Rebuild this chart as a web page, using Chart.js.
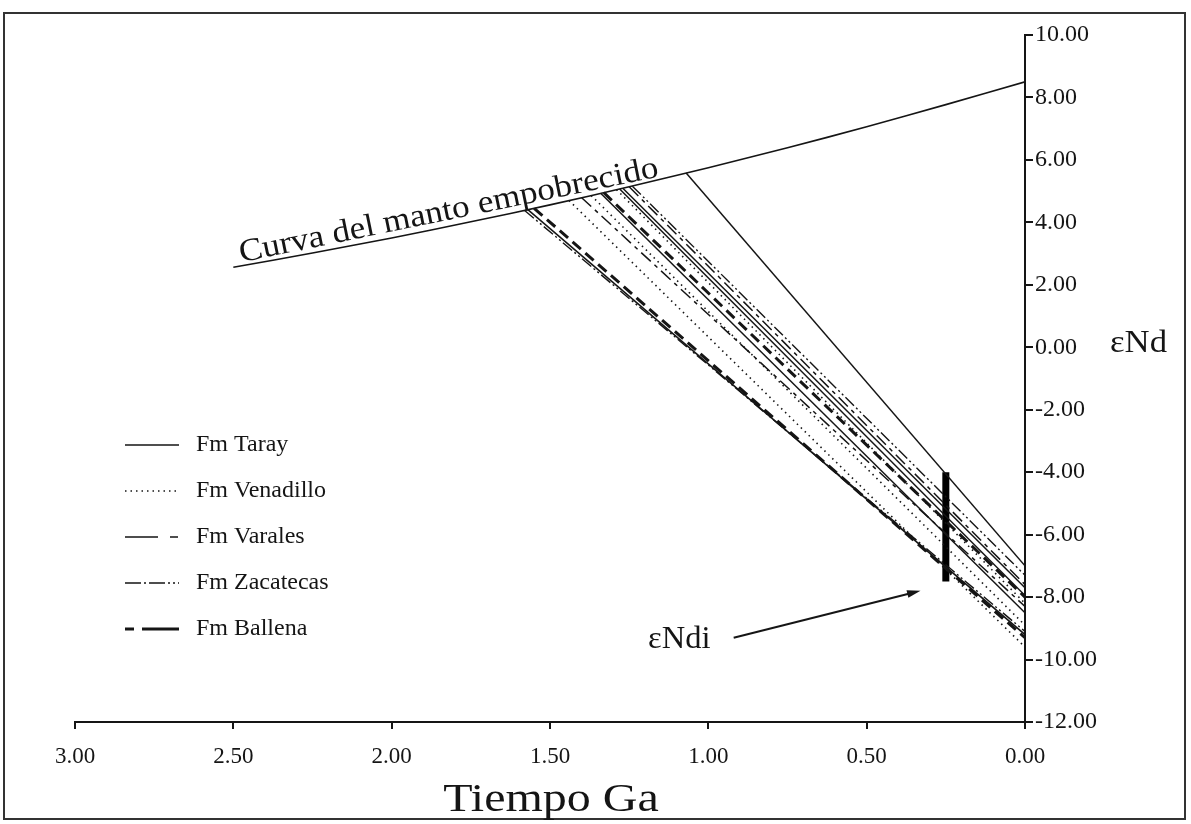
<!DOCTYPE html>
<html>
<head>
<meta charset="utf-8">
<script src="https://cdn.jsdelivr.net/npm/chart.js@4.4.0/dist/chart.umd.min.js"></script>
<style>
  html, body { margin: 0; padding: 0; background: #fff; }
  #frame { position: absolute; left: 3px; top: 12px; width: 1183px; height: 808px; border: 2px solid #333; box-sizing: border-box; }
  canvas { position: absolute; left: 0; top: 0; }
</style>
</head>
<body>
<div id="frame"></div>
<canvas id="chart" width="1191" height="824"></canvas>
<script>
// depleted mantle curve (age Ga, eNd)
const mantleAge = [2.5, 2.25, 2.0, 1.75, 1.5, 1.25, 1.0, 0.75, 0.5, 0.25, 0];
const mantleEps = [2.56, 3.02, 3.5, 4.02, 4.56, 5.14, 5.75, 6.39, 7.06, 7.77, 8.5];

// each sample: model age (TDM), eNd on the mantle curve, present eNd
const formations = ['Fm Taray', 'Fm Venadillo', 'Fm Varales', 'Fm Zacatecas', 'Fm Ballena'];

const tarayTdm = [1.07, 1.57, 1.34, 1.28, 1.27];
const tarayStart = [5.58, 4.41, 4.93, 5.07, 5.09];
const tarayNow = [-7.0, -9.2, -8.5, -7.95, -7.7];

const venadilloTdm = [1.44, 1.37, 1.29];
const venadilloStart = [4.70, 4.86, 5.05];
const venadilloNow = [-9.6, -8.9, -8.2];

const varalesTdm = [1.40, 1.25];
const varalesStart = [4.79, 5.14];
const varalesNow = [-8.3, -7.6];

const zacatecasTdm = [1.58, 1.24];
const zacatecasStart = [4.38, 5.16];
const zacatecasNow = [-9.1, -7.3];

const ballenaTdm = [1.55, 1.33];
const ballenaStart = [4.45, 4.95];
const ballenaNow = [-9.3, -8.0];

// eNdi bar and arrow
const endiAge = 0.25;
const endiRange = [-4.0, -7.5];
const arrowTail = [0.92, -9.3];
const arrowHead = [0.33, -7.8];

const xTicks = [3.0, 2.5, 2.0, 1.5, 1.0, 0.5, 0.0];

const INK = '#151515';
const SERIF = '"Liberation Serif", "DejaVu Serif", serif';

const styles = [
  { borderWidth: 1.5, borderDash: [] },
  { borderWidth: 1.6, borderDash: [1.5, 4] },
  { borderWidth: 1.5, borderDash: [13, 5, 4, 5] },
  { borderWidth: 1.4, borderDash: [12, 3, 2, 3, 2, 3] },
  { borderWidth: 3, borderDash: [11, 6] }
];

const groups = [
  [tarayTdm, tarayStart, tarayNow],
  [venadilloTdm, venadilloStart, venadilloNow],
  [varalesTdm, varalesStart, varalesNow],
  [zacatecasTdm, zacatecasStart, zacatecasNow],
  [ballenaTdm, ballenaStart, ballenaNow]
];

const datasets = [];
datasets.push({
  label: 'Curva del manto empobrecido',
  data: mantleAge.map((a, i) => ({ x: a, y: mantleEps[i] })),
  borderColor: INK, borderWidth: 1.6, showLine: true, pointRadius: 0, tension: 0.3
});
groups.forEach((g, gi) => {
  g[0].forEach((t, i) => {
    datasets.push({
      label: formations[gi],
      data: [{ x: t, y: g[1][i] }, { x: 0, y: g[2][i] }],
      borderColor: INK,
      borderWidth: styles[gi].borderWidth,
      borderDash: styles[gi].borderDash,
      showLine: true, pointRadius: 0
    });
  });
});
datasets.push({
  label: 'eNdi',
  data: [{ x: endiAge, y: endiRange[0] }, { x: endiAge, y: endiRange[1] }],
  borderColor: '#000', borderWidth: 7, borderCapStyle: 'butt', showLine: true, pointRadius: 0
});

// draw text stretched horizontally a little, like the scanned original
function wideText(ctx, txt, x, y, font, sx, align) {
  ctx.save();
  ctx.font = font;
  const w = ctx.measureText(txt).width * sx;
  let left = x;
  if (align === 'center') left = x - w / 2;
  ctx.translate(left, y);
  ctx.scale(sx, 1);
  ctx.textAlign = 'left';
  ctx.fillText(txt, 0, 0);
  ctx.restore();
}

const annotations = {
  id: 'annotations',
  afterDatasetsDraw(chart) {
    const ctx = chart.ctx;
    const xs = chart.scales.x, ys = chart.scales.y;
    ctx.save();
    ctx.fillStyle = INK;
    ctx.strokeStyle = INK;

    // curve label
    ctx.save();
    ctx.translate(xs.getPixelForValue(2.475), ys.getPixelForValue(2.72));
    ctx.rotate(-11.6 * Math.PI / 180);
    ctx.scale(1.1, 1);
    ctx.font = '32px ' + SERIF;
    ctx.textBaseline = 'alphabetic';
    ctx.textAlign = 'left';
    ctx.fillText('Curva del manto empobrecido', 0, 0);
    ctx.restore();

    // eNdi label + arrow
    ctx.textBaseline = 'middle';
    wideText(ctx, '\u03B5Ndi', 648, 640, '31px ' + SERIF, 1.05, 'left');
    const x1 = xs.getPixelForValue(arrowTail[0]), y1 = ys.getPixelForValue(arrowTail[1]);
    const x2 = xs.getPixelForValue(arrowHead[0]), y2 = ys.getPixelForValue(arrowHead[1]);
    const ang = Math.atan2(y2 - y1, x2 - x1);
    ctx.lineWidth = 2;
    ctx.beginPath();
    ctx.moveTo(x1, y1);
    ctx.lineTo(x2 - 8 * Math.cos(ang), y2 - 8 * Math.sin(ang));
    ctx.stroke();
    ctx.beginPath();
    ctx.moveTo(x2, y2);
    ctx.lineTo(x2 - 14 * Math.cos(ang - 0.28), y2 - 14 * Math.sin(ang - 0.28));
    ctx.lineTo(x2 - 14 * Math.cos(ang + 0.28), y2 - 14 * Math.sin(ang + 0.28));
    ctx.closePath();
    ctx.fill();

    // y axis name
    wideText(ctx, '\u03B5Nd', 1110, 344, '31px ' + SERIF, 1.12, 'left');

    // x axis name
    wideText(ctx, 'Tiempo Ga', 551, 800, '40px ' + SERIF, 1.2, 'center');

    // legend
    const rows = [445, 491, 537, 583, 629];
    const legendDash = [[], [1.5, 4], [33, 12, 8, 100], [16, 3, 2, 3, 16, 3, 2, 3, 2, 3], [9, 8, 40, 100]];
    formations.forEach((name, i) => {
      ctx.save();
      ctx.lineWidth = styles[i].borderWidth;
      ctx.setLineDash(legendDash[i]);
      ctx.beginPath();
      ctx.moveTo(125, rows[i]);
      ctx.lineTo(179, rows[i]);
      ctx.stroke();
      ctx.restore();
      ctx.font = '24px ' + SERIF;
      ctx.textAlign = 'left';
      ctx.fillText(name, 196, rows[i]);
    });
    ctx.restore();
  }
};

new Chart(document.getElementById('chart'), {
  type: 'scatter',
  data: { datasets },
  options: {
    responsive: false,
    animation: false,
    layout: { padding: { left: 75, top: 35, right: 0, bottom: 0 } },
    plugins: { legend: { display: false }, tooltip: { enabled: false } },
    scales: {
      x: {
        type: 'linear', reverse: true, min: 0, max: 3,
        afterBuildTicks(scale) { scale.ticks = xTicks.map(v => ({ value: v })); },
        afterFit(scale) { scale.height = 102; },
        border: { display: true, color: INK, width: 2 },
        grid: { display: true, drawOnChartArea: false, drawTicks: true, tickLength: 7, color: INK, lineWidth: 2 },
        ticks: { color: INK, font: { family: SERIF, size: 23 }, padding: 14, maxRotation: 0, callback: v => v.toFixed(2) }
      },
      y: {
        type: 'linear', position: 'right', min: -12, max: 10,
        afterFit(scale) { scale.width = 166; },
        border: { display: true, color: INK, width: 2 },
        grid: { display: true, drawOnChartArea: false, drawTicks: true, tickLength: 8, color: INK, lineWidth: 2 },
        ticks: { stepSize: 2, color: INK, font: { family: SERIF, size: 24 }, padding: 2, callback: v => v.toFixed(2) }
      }
    }
  },
  plugins: [annotations]
});
</script>
</body>
</html>
